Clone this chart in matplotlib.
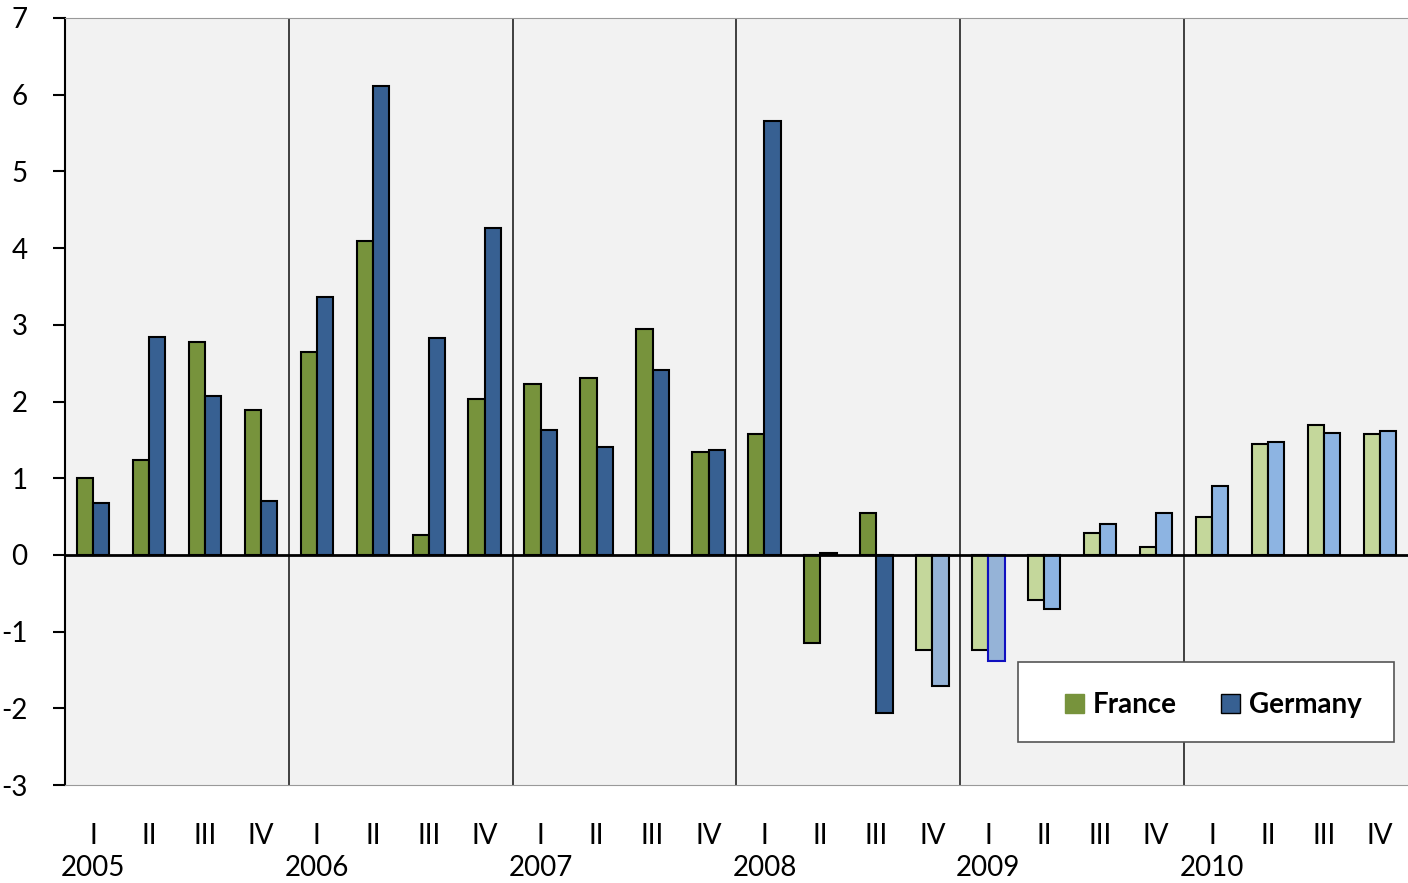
import matplotlib
matplotlib.use("Agg")
import matplotlib.pyplot as plt
import matplotlib.patches as mpatches
import matplotlib.transforms as mtransforms
import numpy as np

plt.rcParams['font.family'] = ['Lato', 'DejaVu Sans']

# dados
anos = ['2005', '2006', '2007', '2008', '2009', '2010']
trimestres = ['I', 'II', 'III', 'IV']
franca = [1.00, 1.24, 2.78, 1.89,
          2.65, 4.09, 0.26, 2.03,
          2.23, 2.31, 2.95, 1.34,
          1.58, -1.15, 0.55, -1.24,
          -1.24, -0.59, 0.29, 0.10,
          0.50, 1.45, 1.70, 1.58]
alemanha = [0.68, 2.84, 2.07, 0.70,
            3.36, 6.11, 2.83, 4.26,
            1.63, 1.41, 2.41, 1.37,
            5.66, 0.02, -2.06, -1.71,
            -1.38, -0.71, 0.40, 0.55,
            0.90, 1.47, 1.59, 1.62]
# primeiro trimestre previsto (cores claras)
inicio_previsao = 15

n = len(franca)
x = np.arange(n)
largura = 0.29

cor_fr = ['#77933C' if i < inicio_previsao else '#C4D79B' for i in range(n)]
cor_de = []
for i in range(n):
    if i < inicio_previsao:
        cor_de.append('#376092')
    elif i < 17:
        cor_de.append('#95B3D7')
    else:
        cor_de.append('#8DB4E2')
borda_de = ['black'] * n
borda_de[16] = '#1010C0'

W, H = 1408, 883
fig = plt.figure(figsize=(W / 100, H / 100), dpi=100)
ax = fig.add_axes([65 / W, 98 / H, 1 - 65 / W, (785 - 18) / H])
ax.set_facecolor('#f2f2f2')

ax.bar(x - largura / 2, franca, largura, color=cor_fr, edgecolor='black', linewidth=1.5, zorder=3)
ax.bar(x + largura / 2, alemanha, largura, color=cor_de, edgecolor=borda_de, linewidth=1.5, zorder=3)

ax.set_xlim(-0.5, n - 0.5)
ax.set_ylim(-3, 7)

# linhas separando os anos
for k in range(1, len(anos)):
    ax.axvline(4 * k - 0.5, color='#222222', linewidth=1.2, zorder=2)
ax.axhline(0, color='black', linewidth=2, zorder=4)

# eixos
ax.spines['right'].set_visible(False)
ax.spines['top'].set_color('#999999')
ax.spines['bottom'].set_color('#999999')
ax.spines['left'].set_color('black')
ax.spines['left'].set_linewidth(1.5)

ax.set_yticks(range(-3, 8))
ax.set_yticklabels([str(v) for v in range(-3, 8)], fontsize=20)
ax.tick_params(axis='y', length=9, width=1.5, pad=18)

ax.set_xticks(x)
ax.set_xticklabels([trimestres[i % 4] for i in range(n)], fontsize=20)
ax.tick_params(axis='x', length=0, pad=27)

# anos embaixo do primeiro trimestre
trans = mtransforms.blended_transform_factory(ax.transData, fig.transFigure)
for j, ano in enumerate(anos):
    ax.text(4 * j, (H - 876) / H, ano, transform=trans, ha='center', va='baseline',
            fontsize=20, clip_on=False)

# caixa da legenda (desenhada à parte para controlar o tamanho)
caixa = mpatches.Rectangle((1018 / W, (H - 742) / H), (1394 - 1018) / W, 80 / H,
                           transform=fig.transFigure, facecolor='white',
                           edgecolor='#555555', linewidth=1.2, zorder=5)
fig.patches.append(caixa)

h_fr = mpatches.Patch(facecolor='#77933C', edgecolor='#77933C', label='France')
h_de = mpatches.Patch(facecolor='#376092', edgecolor='black', label='Germany')
leg = fig.legend(handles=[h_fr, h_de], loc='center',
                 bbox_to_anchor=(1213 / W, (H - 705) / H),
                 ncol=2, frameon=False, prop={'weight': 'bold', 'size': 20},
                 handlelength=0.7, handleheight=0.7, handletextpad=0.3, columnspacing=1.6)
leg.set_zorder(6)

fig.savefig('out.png', dpi=100)
